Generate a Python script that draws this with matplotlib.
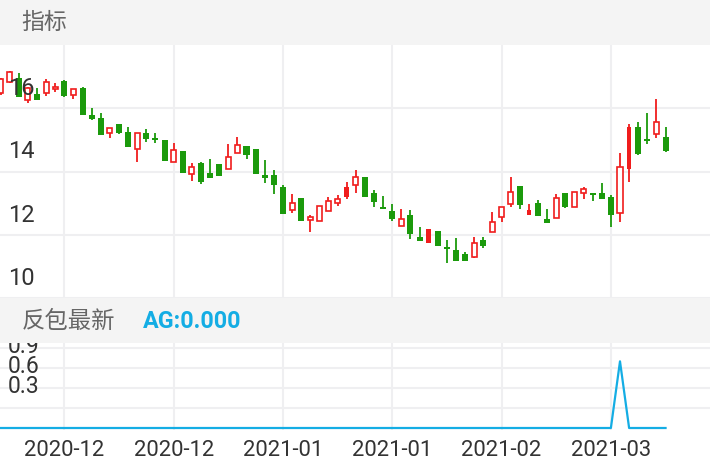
import numpy as np
import matplotlib
matplotlib.use("Agg")
import matplotlib.pyplot as plt
from matplotlib.patches import Rectangle

plt.rcParams['font.family'] = ['Roboto', 'Noto Sans CJK SC', 'DejaVu Sans']

# daily candles
opens = [16.48, 16.83, 16.96, 16.26, 16.45, 16.48, 16.61, 16.86, 16.42, 16.64,
         15.79, 15.69, 15.22, 15.49, 15.25, 14.71, 15.22, 15.06, 15.00, 14.30,
         14.65, 13.92, 14.27, 13.95, 14.24, 14.08, 14.59, 14.81, 14.71, 13.89,
         13.89, 13.51, 12.78, 13.16, 12.47, 12.43, 12.75, 13.00, 13.19, 13.57,
         13.83, 13.32, 12.88, 12.75, 12.28, 12.62, 11.93, 11.74, 12.12, 11.61,
         11.52, 11.39, 11.30, 11.83, 12.09, 12.56, 12.97, 13.54, 12.62, 13.00,
         12.50, 12.53, 13.32, 12.88, 13.32, 13.32, 13.32, 13.19, 12.69, 14.08,
         15.41, 15.03, 15.19, 15.09]
closes = [16.93, 17.15, 16.36, 16.64, 16.26, 16.83, 16.67, 16.39, 16.61, 15.79,
          15.66, 15.15, 15.38, 15.22, 14.77, 15.22, 15.03, 15.00, 14.33, 14.68,
          13.95, 14.14, 13.67, 13.79, 13.86, 14.46, 14.84, 14.52, 13.92, 13.79,
          13.57, 12.66, 13.00, 12.43, 12.56, 12.91, 13.07, 13.13, 13.51, 13.83,
          13.19, 13.04, 12.81, 12.50, 12.50, 12.02, 11.80, 12.18, 11.64, 11.55,
          11.17, 11.17, 11.74, 11.64, 12.40, 12.88, 13.35, 12.94, 12.78, 12.59,
          12.37, 13.16, 12.88, 13.35, 13.45, 13.26, 13.13, 12.62, 14.14, 15.41,
          14.55, 14.96, 15.57, 14.65]
highs = [16.96, 17.17, 17.12, 16.66, 16.64, 16.93, 16.80, 16.88, 16.62, 16.66,
         16.01, 15.85, 15.39, 15.50, 15.41, 15.23, 15.34, 15.22, 15.01, 14.90,
         14.66, 14.27, 14.30, 14.40, 14.25, 14.87, 15.09, 14.81, 14.72, 14.36,
         14.05, 13.57, 13.29, 13.17, 12.62, 12.92, 13.19, 13.26, 13.67, 14.05,
         13.84, 13.42, 13.23, 12.97, 12.81, 12.78, 12.25, 12.19, 12.13, 11.83,
         11.90, 11.45, 11.93, 11.93, 12.72, 12.89, 13.83, 13.55, 12.97, 13.10,
         12.81, 13.29, 13.33, 13.36, 13.51, 13.33, 13.64, 13.26, 14.59, 15.50,
         15.57, 15.85, 16.29, 15.41]
lows = [16.42, 16.80, 16.35, 16.17, 16.25, 16.39, 16.51, 16.37, 16.29, 15.78,
        15.63, 15.14, 15.06, 15.19, 14.76, 14.30, 14.93, 14.90, 14.32, 14.29,
        13.94, 13.70, 13.60, 13.78, 13.85, 14.07, 14.58, 14.40, 13.91, 13.64,
        13.29, 12.65, 12.69, 12.42, 12.09, 12.42, 12.74, 12.91, 13.13, 13.32,
        13.18, 12.88, 12.80, 12.43, 12.27, 11.87, 11.79, 11.73, 11.63, 11.11,
        11.16, 11.16, 11.26, 11.58, 12.08, 12.40, 12.88, 12.81, 12.61, 12.58,
        12.36, 12.52, 12.85, 12.87, 13.13, 13.07, 13.12, 12.25, 12.40, 13.67,
        14.52, 14.87, 15.06, 14.62]
# red candles drawn solid instead of hollow
solid_red = [38, 47, 58, 69]

# 反包最新 indicator
ag = [0, 0, 0, 0, 0, 0, 0, 0, 0, 0, 0, 0, 0, 0, 0, 0, 0, 0, 0, 0,
      0, 0, 0, 0, 0, 0, 0, 0, 0, 0, 0, 0, 0, 0, 0, 0, 0, 0, 0, 0,
      0, 0, 0, 0, 0, 0, 0, 0, 0, 0, 0, 0, 0, 0, 0, 0, 0, 0, 0, 0,
      0, 0, 0, 0, 0, 0, 0, 0, 1, 0, 0, 0, 0, 0]

tick_idx = [7, 19, 31, 43, 55, 67]
tick_labels = ['2020-12', '2020-12', '2021-01', '2021-01', '2021-02', '2021-03']
main_ticks = [10, 12, 14, 16]
sub_ticks = [0.3, 0.6, 0.9, 1.2]
sub_labels = ['0.3', '0.6', '0.9']

RED = '#f01d1d'
GREEN = '#1b9a0c'
BLUE = '#14ade4'
GRID = '#efeff1'
BAND = '#f4f4f4'
TXT = '#333333'

W, H = 710, 472
fig = plt.figure(figsize=(W / 100, H / 100), dpi=100)

def fy(px):
    return 1 - px / H

# header bands
fig.patches.append(Rectangle((0, fy(45)), 1, 45 / H, transform=fig.transFigure,
                             facecolor=BAND, edgecolor='none', zorder=0))
fig.patches.append(Rectangle((0, fy(343)), 1, 45 / H, transform=fig.transFigure,
                             facecolor=BAND, edgecolor='none', zorder=0))
fig.text(21 / W, fy(22), '指标', fontsize=16.5, color='#666666',
         family=['Noto Sans CJK SC'], va='center')
fig.text(22 / W, fy(321), '反包最新', fontsize=16.8, color='#666666',
         family=['Noto Sans CJK SC'], va='center')
fig.text(143 / W, fy(322), 'AG:0.000', fontsize=16.8, color=BLUE,
         fontweight='bold', va='center')

xlim = (-0.06, 77.88)

ax = fig.add_axes([0, fy(298), 1, 253 / H])
ax.set_xlim(*xlim)
ax.set_ylim(10, 18)
ax.set_xticks(tick_idx)
ax.set_yticks(main_ticks)
ax.tick_params(length=0, labelbottom=False, labelleft=False)
ax.grid(True, color=GRID, lw=1.5)
ax.set_axisbelow(True)
for s in ax.spines.values():
    s.set_visible(False)
ax.patch.set_alpha(0)

o = np.array(opens)
c = np.array(closes)
x = np.arange(len(o))
up = c >= o
cols = np.where(up, RED, GREEN)
ax.vlines(x, lows, highs, colors=cols, lw=1.3, zorder=2)
for i in range(len(o)):
    lo, hi = min(o[i], c[i]), max(o[i], c[i])
    h = max(hi - lo, 0.04)
    if up[i] and i not in solid_red:
        ax.bar(x[i], h, bottom=lo, width=0.56, facecolor='white',
               edgecolor=RED, lw=1.2, zorder=3)
    elif up[i]:
        ax.bar(x[i], h, bottom=lo, width=0.5, color=RED, lw=0, zorder=3)
    else:
        ax.bar(x[i], h, bottom=lo, width=0.66, color=GREEN, lw=0, zorder=3)

for v in main_ticks:
    ax.annotate(str(v), xy=(8 / W, v), xycoords=ax.get_yaxis_transform(),
                xytext=(0, 13), textcoords='offset pixels', va='baseline',
                ha='left', fontsize=17, color=TXT, zorder=5)

# sub chart
ax2 = fig.add_axes([0, fy(430), 1, 87 / H])
ax2.set_xlim(*xlim)
ax2.set_ylim(-0.03, 1.275)
ax2.set_xticks(tick_idx)
ax2.set_xticklabels(tick_labels, fontsize=15.8, color=TXT)
ax2.set_yticks(sub_ticks)
ax2.tick_params(length=0, labelleft=False, pad=7)
ax2.grid(True, color=GRID, lw=1.5)
ax2.set_axisbelow(True)
for s in ax2.spines.values():
    s.set_visible(False)
ax2.patch.set_alpha(0)
ax2.plot(x, ag, color=BLUE, lw=1.6, zorder=3)
for v, lab in zip(sub_ticks, sub_labels):
    ax2.annotate(lab, xy=(8 / W, v), xycoords=ax2.get_yaxis_transform(),
                 xytext=(0, 15), textcoords='offset pixels', va='baseline',
                 ha='left', fontsize=16.5, color=TXT, clip_on=True, zorder=5)

fig.savefig('out.png', dpi=100)
